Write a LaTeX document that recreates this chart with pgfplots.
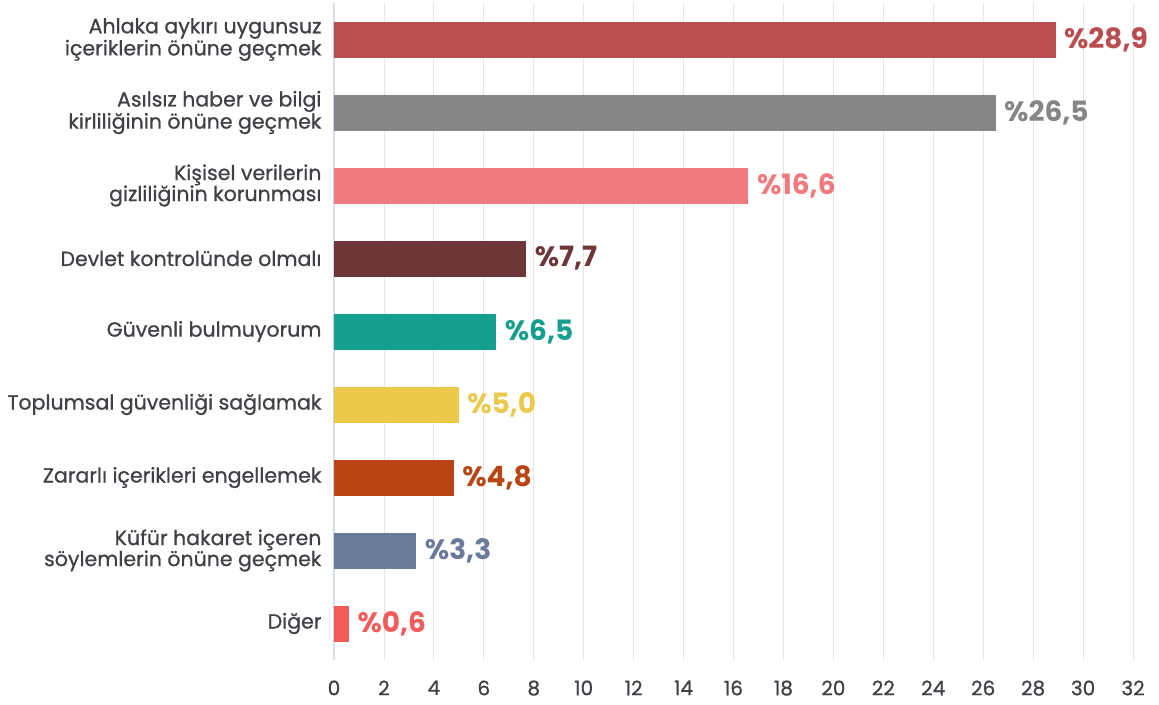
\documentclass[border=0pt]{standalone}
\usepackage{pgfplots}
\pgfplotsset{compat=1.18}
\usepackage{fontspec}
\setmainfont{Poppins}
\newfontfamily\labfont{Poppins}[FakeBold=0.8]
\definecolor{c1}{HTML}{B94D4F}
\definecolor{c2}{HTML}{868686}
\definecolor{c3}{HTML}{F07A7E}
\definecolor{c4}{HTML}{6E3638}
\definecolor{c5}{HTML}{14A08C}
\definecolor{c6}{HTML}{EBC94A}
\definecolor{c7}{HTML}{B84513}
\definecolor{c8}{HTML}{6A7A9A}
\definecolor{c9}{HTML}{F45B5B}
\definecolor{txt}{HTML}{3F4147}
\definecolor{gridc}{HTML}{E6E6E6}
\definecolor{axc}{HTML}{CCD6EB}
\begin{document}
\begin{tikzpicture}[x=1pt,y=1pt]
\path[use as bounding box] (0,0) rectangle (1159,704);
\begin{axis}[
  at={(334pt,44pt)}, anchor=south west,
  scale only axis, width=799pt, height=657pt,
  xmin=0, xmax=32, xtick={0,2,...,32},
  ymin=-0.5, ymax=8.5, y dir=reverse,
  ytick={0,...,8},
  yticklabels={{Ahlaka aykırı uygunsuz\\içeriklerin önüne geçmek},
    {Asılsız haber ve bilgi\\kirliliğinin önüne geçmek},
    {Kişisel verilerin\\gizliliğinin korunması},
    {Devlet kontrolünde olmalı},
    {Güvenli bulmuyorum},
    {Toplumsal güvenliği sağlamak},
    {Zararlı içerikleri engellemek},
    {Küfür hakaret içeren\\söylemlerin önüne geçmek},
    {Diğer}},
  xbar, bar width=36pt,
  axis lines*=left,
  x axis line style={draw=none},
  y axis line style={draw=axc, line width=1pt, -},
  xmajorgrids, grid style={draw=gridc, line width=0.8pt},
  major tick length=0pt,
  tick style={draw=none},
  /pgf/number format/assume math mode=true,
  xticklabel style={font=\labfont\fontsize{20}{22}\selectfont, text=txt, yshift=-17pt},
  yticklabel style={font=\labfont\fontsize{20.5}{21}\selectfont, text=txt, align=right, xshift=-9pt},
  nodes near coords align={horizontal},
  every node near coord/.style={font=\fontsize{28}{29}\bfseries\selectfont, anchor=west, xshift=5pt},
]
\addplot[fill=c1, draw=none, bar shift=0pt, nodes near coords={\%28,9}, every node near coord/.append style={text=c1}] coordinates {(28.9,0)};
\addplot[fill=c2, draw=none, bar shift=0pt, nodes near coords={\%26,5}, every node near coord/.append style={text=c2}] coordinates {(26.5,1)};
\addplot[fill=c3, draw=none, bar shift=0pt, nodes near coords={\%16,6}, every node near coord/.append style={text=c3}] coordinates {(16.6,2)};
\addplot[fill=c4, draw=none, bar shift=0pt, nodes near coords={\%7,7}, every node near coord/.append style={text=c4}] coordinates {(7.7,3)};
\addplot[fill=c5, draw=none, bar shift=0pt, nodes near coords={\%6,5}, every node near coord/.append style={text=c5}] coordinates {(6.5,4)};
\addplot[fill=c6, draw=none, bar shift=0pt, nodes near coords={\%5,0}, every node near coord/.append style={text=c6}] coordinates {(5.0,5)};
\addplot[fill=c7, draw=none, bar shift=0pt, nodes near coords={\%4,8}, every node near coord/.append style={text=c7}] coordinates {(4.8,6)};
\addplot[fill=c8, draw=none, bar shift=0pt, nodes near coords={\%3,3}, every node near coord/.append style={text=c8}] coordinates {(3.3,7)};
\addplot[fill=c9, draw=none, bar shift=0pt, nodes near coords={\%0,6}, every node near coord/.append style={text=c9}] coordinates {(0.6,8)};
\end{axis}
\end{tikzpicture}
\end{document}
